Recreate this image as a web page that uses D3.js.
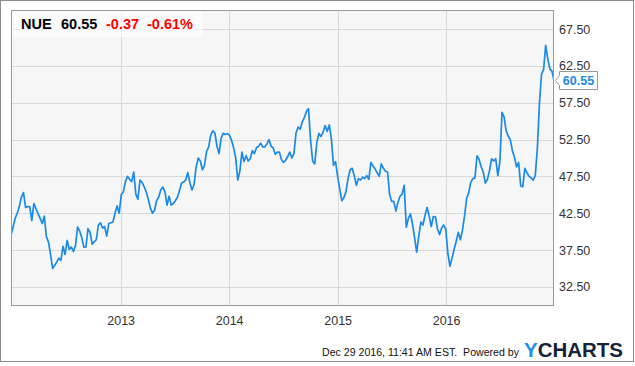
<!DOCTYPE html>
<html><head><meta charset="utf-8">
<script src="https://cdn.jsdelivr.net/npm/d3@7"></script>
<style>
html,body{margin:0;padding:0;background:#fff;}
svg{display:block;font-family:"Liberation Sans",Arial,sans-serif;}
</style></head>
<body><svg id="c" width="635" height="366"></svg>
<script>
// ---- data ----
const ticker = "NUE";
const lastPrice = "60.55";
const change = "-0.37";
const changePct = "-0.61%";
const timestamp = "Dec 29 2016, 11:41 AM EST.";
const poweredBy = "Powered by";
const startDate = "2011-12-29";
const endDate = "2016-12-29";
const weeklyClose = [
 39.55, 40.6, 41.8, 42.5, 43.4, 44.7, 45.3, 43.3, 43.4, 43.4,
 41.5, 43.8, 43.1, 42.4, 41.8, 41.1, 42.1, 39.3, 38.6, 36.9,
 35.0, 35.4, 35.9, 36.4, 36.1, 38.0, 36.9, 38.8, 37.6, 37.9,
 37.3, 38.1, 40.6, 40.1, 39.2, 37.9, 37.9, 40.4, 39.9, 38.3,
 38.6, 38.9, 40.9, 41.2, 40.5, 40.7, 39.4, 41.1, 41.2, 41.3,
 42.5, 43.5, 42.5, 45.0,
 45.4, 46.8, 47.5, 47.1, 46.8, 48.1, 45.1, 44.4, 47.0, 46.7,
 46.1, 45.4, 44.4, 43.2, 42.5, 42.9, 44.2, 44.7, 45.7, 46.05,
 45.4, 43.6, 44.8, 43.6, 43.8, 44.2, 44.67, 45.6, 46.6, 46.75,
 47.0, 48.0, 46.6, 45.66, 46.4, 48.8, 50.0, 49.6, 48.4, 49.0,
 50.85, 51.5, 53.1, 53.7, 53.4, 51.6, 50.6, 52.7, 53.35, 53.2,
 53.3, 53.1,
 52.4, 51.4, 50.0, 47.0, 48.2, 50.8, 49.5, 50.3, 49.6, 49.9,
 51.0, 50.6, 51.4, 51.6, 52.0, 51.5, 51.5, 51.9, 52.5, 51.6,
 51.4, 50.5, 50.8, 50.8, 49.8, 49.4, 49.7, 50.2, 50.8, 50.0,
 50.6, 53.4, 54.2, 53.9, 54.9, 55.5, 56.3, 56.7, 52.4, 49.6,
 49.2, 52.1, 53.35, 52.9, 53.5, 54.4, 53.6, 54.5, 52.6, 49.0,
 49.5, 47.5, 45.8,
 44.2, 44.6, 45.4, 47.2, 48.4, 48.6, 47.6, 46.3, 47.2, 47.0,
 47.4, 47.2, 47.6, 47.1, 49.4, 48.9, 48.5, 48.0, 47.5, 49.2,
 48.6, 48.2, 48.1, 45.0, 44.1, 44.1, 42.8, 44.0, 44.8, 45.1,
 46.3, 40.6, 41.8, 42.4, 41.0, 39.2, 37.2, 39.4, 41.3, 40.9,
 42.2, 43.3, 42.1, 40.7, 42.05, 42.0, 40.4, 39.6, 40.5, 40.9,
 40.3,
 37.0, 35.3, 36.4, 37.6, 38.7, 39.9, 38.9, 40.2, 42.1, 44.5,
 45.3, 46.7, 47.2, 47.3, 50.3, 49.8, 48.8, 48.1, 46.6, 47.1,
 48.3, 49.9, 49.6, 49.9, 47.6, 49.5, 56.2, 55.6, 53.7, 52.95,
 52.5, 51.0, 50.1, 48.8, 49.4, 46.2, 46.1, 48.6, 48.0, 47.5,
 47.3, 47.0, 47.6, 51.3, 57.4, 61.4, 62.0, 65.3, 63.5, 62.1,
 61.8, 60.55
];
const yTicks = [32.5, 37.5, 42.5, 47.5, 52.5, 57.5, 62.5, 67.5];
const xTickYears = [2013, 2014, 2015, 2016];
const yDomain = [29.9, 70.1];

// ---- drawing ----
const svg = d3.select("#c");
const plot = {l: 11, t: 10, r: 554, b: 306};
const parse = d3.timeParse("%Y-%m-%d");
const t0 = parse(startDate);
const series = weeklyClose.map((v, i) => ({date: d3.timeDay.offset(t0, 7 * i), v}));
const x = d3.scaleTime().domain([t0, parse(endDate)]).range([plot.l, plot.r]);
const y = d3.scaleLinear().domain(yDomain).range([plot.b, plot.t]);
const xTicks = xTickYears.map(yr => new Date(yr, 0, 1));

// outer frame
svg.append("rect").attr("x", 0.5).attr("y", 0.5).attr("width", 633).attr("height", 361)
  .attr("fill", "#fff").attr("stroke", "#8c8c8c");

// plot background
svg.append("rect").attr("x", plot.l).attr("y", plot.t)
  .attr("width", plot.r - plot.l).attr("height", plot.b - plot.t).attr("fill", "#f6f6f6");

// grid
const grid = svg.append("g").attr("stroke", "#d9d9d9").attr("stroke-width", 1);
grid.selectAll("line.h").data(yTicks).join("line").attr("class", "h")
  .attr("x1", plot.l).attr("x2", plot.r)
  .attr("y1", d => Math.round(y(d)) + 0.5).attr("y2", d => Math.round(y(d)) + 0.5);
grid.selectAll("line.v").data(xTicks).join("line").attr("class", "v")
  .attr("y1", plot.t).attr("y2", plot.b)
  .attr("x1", d => Math.round(x(d)) + 0.5).attr("x2", d => Math.round(x(d)) + 0.5);

// price line
const clipId = "clipPlot";
svg.append("clipPath").attr("id", clipId).append("rect")
  .attr("x", plot.l).attr("y", plot.t).attr("width", plot.r - plot.l).attr("height", plot.b - plot.t);
svg.append("path").datum(series)
  .attr("clip-path", `url(#${clipId})`)
  .attr("fill", "none").attr("stroke", "#1a8ae6").attr("stroke-width", 1.7)
  .attr("stroke-linejoin", "round")
  .attr("d", d3.line().x(d => x(d.date)).y(d => y(d.v)));

// plot border
svg.append("rect").attr("x", plot.l + 0.5).attr("y", plot.t + 0.5)
  .attr("width", plot.r - plot.l - 1).attr("height", plot.b - plot.t - 1)
  .attr("fill", "none").attr("stroke", "#999");

// y axis labels
const yAxis = svg.append("g").attr("transform", `translate(${plot.r},0)`)
  .call(d3.axisRight(y).tickValues(yTicks).tickFormat(d3.format(".2f")).tickSize(0).tickPadding(5));
yAxis.select(".domain").remove();
yAxis.selectAll("text").attr("fill", "#333").style("font-size", "12.5px")
  .style("font-family", '"Liberation Sans",Arial,sans-serif');

// x axis labels
const xAxis = svg.append("g").attr("transform", `translate(0,${plot.b})`)
  .call(d3.axisBottom(x).tickValues(xTicks).tickFormat(d3.timeFormat("%Y")).tickSize(0).tickPadding(10));
xAxis.select(".domain").remove();
xAxis.selectAll("text").attr("fill", "#333").style("font-size", "12.5px")
  .style("font-family", '"Liberation Sans",Arial,sans-serif');

// title box
svg.append("rect").attr("x", plot.l + 1).attr("y", plot.t + 1).attr("width", 191).attr("height", 26)
  .attr("fill", "#fff").attr("fill-opacity", 0.6);
const title = svg.append("text").attr("x", 21).attr("y", 28.5)
  .style("font-size", "14.5px").style("font-weight", "bold");
title.append("tspan").attr("fill", "#000").text(ticker);
title.append("tspan").attr("x", 61).attr("fill", "#000").text(lastPrice);
title.append("tspan").attr("x", 106).attr("fill", "#f00").text(change);
title.append("tspan").attr("x", 147).attr("fill", "#f00").text(changePct);

// last value marker
const last = series[series.length - 1];
const ly = Math.round(y(last.v));
svg.append("path")
  .attr("d", `M597.5,${ly - 8.5} H559.5 V${ly - 4.5} L555.5,${ly + 0.5} L559.5,${ly + 5.5} V${ly + 9.5} H597.5 Z`)
  .attr("fill", "#fff").attr("stroke", "#999");
svg.append("text").attr("x", 578.5).attr("y", ly + 5).attr("text-anchor", "middle")
  .attr("fill", "#1a8ae6").style("font-size", "12.5px").style("font-weight", "bold")
  .text(d3.format(".2f")(last.v));

// footer
svg.append("text").attr("x", 322).attr("y", 356).attr("fill", "#111")
  .attr("textLength", 197).attr("lengthAdjust", "spacingAndGlyphs")
  .style("font-size", "10.4px").style("white-space", "pre")
  .text(timestamp + "  " + poweredBy);
const logo = svg.append("text").attr("x", 524).attr("y", 357)
  .attr("textLength", 99).attr("lengthAdjust", "spacingAndGlyphs")
  .style("font-size", "20px").style("font-weight", "bold");
logo.append("tspan").attr("fill", "#1f8fe8").text("Y");
logo.append("tspan").attr("fill", "#15223a").text("CHARTS");
</script></body></html>
